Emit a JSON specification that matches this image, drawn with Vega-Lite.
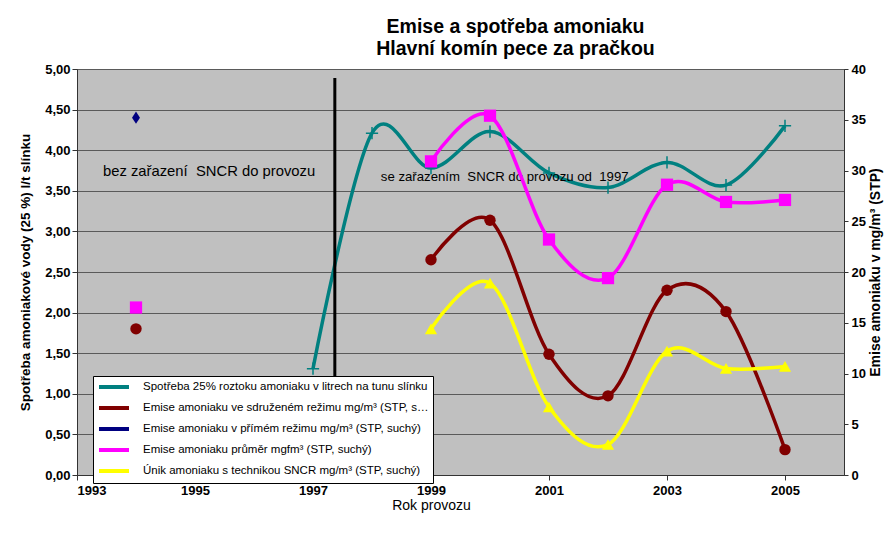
{
  "$schema": "https://vega.github.io/schema/vega-lite/v6.json",
  "width": 767,
  "height": 406,
  "autosize": {"type": "none"},
  "padding": {"left": 77, "top": 69, "right": 52, "bottom": 64},
  "background": "white",
  "config": {
    "font": "Liberation Sans",
    "view": {"fill": "#C0C0C0", "stroke": "#555555", "strokeWidth": 1},
    "axis": {"labelColor": "black", "titleColor": "black", "domainColor": "#333333", "tickColor": "#333333", "labelFont": "Liberation Sans", "titleFont": "Liberation Sans"}
  },
  "title": {
    "text": ["Emise a spotřeba amoniaku", "Hlavní komín pece za pračkou"],
    "fontSize": 19.5,
    "fontWeight": "bold",
    "font": "Liberation Sans",
    "color": "black",
    "anchor": "middle",
    "frame": "group",
    "dx": 55,
    "lineHeight": 22,
    "offset": 4
  },
  "datasets": {
    "teal": [
      {"year": 1997, "value": 1.31, "series": "Spotřeba 25% roztoku amoniaku v litrech na tunu slínku"},
      {"year": 1998, "value": 4.21, "series": "Spotřeba 25% roztoku amoniaku v litrech na tunu slínku"},
      {"year": 1999, "value": 3.78, "series": "Spotřeba 25% roztoku amoniaku v litrech na tunu slínku"},
      {"year": 2000, "value": 4.23, "series": "Spotřeba 25% roztoku amoniaku v litrech na tunu slínku"},
      {"year": 2001, "value": 3.72, "series": "Spotřeba 25% roztoku amoniaku v litrech na tunu slínku"},
      {"year": 2002, "value": 3.54, "series": "Spotřeba 25% roztoku amoniaku v litrech na tunu slínku"},
      {"year": 2003, "value": 3.85, "series": "Spotřeba 25% roztoku amoniaku v litrech na tunu slínku"},
      {"year": 2004, "value": 3.57, "series": "Spotřeba 25% roztoku amoniaku v litrech na tunu slínku"},
      {"year": 2005, "value": 4.30, "series": "Spotřeba 25% roztoku amoniaku v litrech na tunu slínku"}
    ],
    "em": [
      {"year": 1994, "value": 14.4, "series": "Emise amoniaku ve sdruženém režimu mg/m³ (STP, suchý)"},
      {"year": 1999, "value": 21.2, "series": "Emise amoniaku ve sdruženém režimu mg/m³ (STP, suchý)"},
      {"year": 2000, "value": 25.1, "series": "Emise amoniaku ve sdruženém režimu mg/m³ (STP, suchý)"},
      {"year": 2001, "value": 11.9, "series": "Emise amoniaku ve sdruženém režimu mg/m³ (STP, suchý)"},
      {"year": 2002, "value": 7.8, "series": "Emise amoniaku ve sdruženém režimu mg/m³ (STP, suchý)"},
      {"year": 2003, "value": 18.2, "series": "Emise amoniaku ve sdruženém režimu mg/m³ (STP, suchý)"},
      {"year": 2004, "value": 16.1, "series": "Emise amoniaku ve sdruženém režimu mg/m³ (STP, suchý)"},
      {"year": 2005, "value": 2.5, "series": "Emise amoniaku ve sdruženém režimu mg/m³ (STP, suchý)"},
      {"year": 1994, "value": 35.2, "series": "Emise amoniaku v přímém režimu mg/m³ (STP, suchý)"},
      {"year": 1994, "value": 16.5, "series": "Emise amoniaku průměr mgfm³ (STP, suchý)"},
      {"year": 1999, "value": 30.9, "series": "Emise amoniaku průměr mgfm³ (STP, suchý)"},
      {"year": 2000, "value": 35.4, "series": "Emise amoniaku průměr mgfm³ (STP, suchý)"},
      {"year": 2001, "value": 23.2, "series": "Emise amoniaku průměr mgfm³ (STP, suchý)"},
      {"year": 2002, "value": 19.4, "series": "Emise amoniaku průměr mgfm³ (STP, suchý)"},
      {"year": 2003, "value": 28.6, "series": "Emise amoniaku průměr mgfm³ (STP, suchý)"},
      {"year": 2004, "value": 26.9, "series": "Emise amoniaku průměr mgfm³ (STP, suchý)"},
      {"year": 2005, "value": 27.1, "series": "Emise amoniaku průměr mgfm³ (STP, suchý)"},
      {"year": 1999, "value": 14.4, "series": "Únik amoniaku s technikou SNCR mg/m³ (STP, suchý)"},
      {"year": 2000, "value": 18.9, "series": "Únik amoniaku s technikou SNCR mg/m³ (STP, suchý)"},
      {"year": 2001, "value": 6.7, "series": "Únik amoniaku s technikou SNCR mg/m³ (STP, suchý)"},
      {"year": 2002, "value": 3.0, "series": "Únik amoniaku s technikou SNCR mg/m³ (STP, suchý)"},
      {"year": 2003, "value": 12.2, "series": "Únik amoniaku s technikou SNCR mg/m³ (STP, suchý)"},
      {"year": 2004, "value": 10.5, "series": "Únik amoniaku s technikou SNCR mg/m³ (STP, suchý)"},
      {"year": 2005, "value": 10.7, "series": "Únik amoniaku s technikou SNCR mg/m³ (STP, suchý)"}
    ],
    "divider": [{"year": 1997.37, "y1": 0, "y2": 4.89}],
    "notes": [
      {"year": 1993.44, "value": 3.73, "label": "bez zařazení\u00a0 SNCR do provozu"},
      {"year": 1998.15, "value": 3.67, "label": "se zařazením\u00a0 SNCR do provozu od\u00a0 1997"}
    ]
  },
  "encoding": {
    "x": {
      "field": "year",
      "type": "quantitative",
      "scale": {"domain": [1993, 2006], "nice": false, "zero": false},
      "axis": {
        "values": [1993, 1995, 1997, 1999, 2001, 2003, 2005],
        "format": "d",
        "grid": false,
        "title": "Rok provozu",
        "titleFontSize": 14,
        "titleFontWeight": "normal",
        "titlePadding": 1,
        "titleX": 354,
        "labelFontSize": 13,
        "labelFontWeight": "bold",
        "labelPadding": 4,
        "tickSize": 5,
        "domainColor": "#333333"
      }
    }
  },
  "layer": [
    {
      "encoding": {
        "y": {
          "field": "value",
          "type": "quantitative",
          "scale": {"domain": [0, 5], "nice": false, "zero": true},
          "axis": {
            "orient": "left",
            "values": [0, 0.5, 1, 1.5, 2, 2.5, 3, 3.5, 4, 4.5, 5],
            "labelExpr": "replace(format(datum.value, '.2f'), '.', ',')",
            "grid": true,
            "gridColor": "#5a5a5a",
            "gridWidth": 1,
            "title": "Spotřeba amoniakové vody (25 %) l/t slínku",
            "titleFontSize": 13.5,
            "titleFontWeight": "bold",
            "titlePadding": 12,
            "labelFontSize": 13,
            "labelFontWeight": "bold",
            "labelPadding": 2,
            "tickSize": 5
          }
        }
      },
      "layer": [
        {
          "data": {"name": "teal"},
          "mark": {"type": "line", "interpolate": "cardinal", "strokeWidth": 3.5, "color": "#008080"}
        },
        {
          "data": {"name": "teal"},
          "mark": {"type": "point", "shape": "M-1,0H1M0,-1V1", "filled": false, "size": 150, "strokeWidth": 1.5, "color": "#008080", "opacity": 1}
        },
        {
          "data": {"name": "divider"},
          "mark": {"type": "rule", "color": "black", "strokeWidth": 3},
          "encoding": {
            "y": {"field": "y1", "type": "quantitative"},
            "y2": {"field": "y2"}
          }
        },
        {
          "data": {"name": "notes"},
          "transform": [{"filter": "datum.year < 1995"}],
          "mark": {"type": "text", "align": "left", "baseline": "middle", "fontSize": 14.8, "color": "black", "font": "Liberation Sans"},
          "encoding": {"text": {"field": "label", "type": "nominal"}}
        },
        {
          "data": {"name": "notes"},
          "transform": [{"filter": "datum.year > 1995"}],
          "mark": {"type": "text", "align": "left", "baseline": "middle", "fontSize": 13.2, "color": "black", "font": "Liberation Sans"},
          "encoding": {"text": {"field": "label", "type": "nominal"}}
        }
      ]
    },
    {
      "data": {"name": "em"},
      "encoding": {
        "y": {
          "field": "value",
          "type": "quantitative",
          "scale": {"domain": [0, 40], "nice": false, "zero": true},
          "axis": {
            "orient": "right",
            "values": [0, 5, 10, 15, 20, 25, 30, 35, 40],
            "format": "d",
            "grid": false,
            "title": "Emise amoniaku v mg/m³ (STP)",
            "titleAngle": 270,
            "titleBaseline": "top",
            "titleFontSize": 14,
            "titleFontWeight": "bold",
            "titlePadding": 3,
            "labelFontSize": 13,
            "labelFontWeight": "bold",
            "labelPadding": 3,
            "tickSize": 4
          }
        }
      },
      "layer": [
        {
          "transform": [{"filter": "datum.year >= 1997"}],
          "mark": {"type": "line", "interpolate": "cardinal", "strokeWidth": 3.5},
          "encoding": {
            "color": {
              "field": "series",
              "type": "nominal",
              "scale": {
                "domain": ["Spotřeba 25% roztoku amoniaku v litrech na tunu slínku", "Emise amoniaku ve sdruženém režimu mg/m³ (STP, suchý)", "Emise amoniaku v přímém režimu mg/m³ (STP, suchý)", "Emise amoniaku průměr mgfm³ (STP, suchý)", "Únik amoniaku s technikou SNCR mg/m³ (STP, suchý)"],
                "range": ["#008080", "#800000", "#000080", "#FF00FF", "#FFFF00"]
              },
              "legend": {
                "title": null,
                "orient": "none",
                "legendX": 16,
                "legendY": 307,
                "fillColor": "white",
                "strokeColor": "black",
                "padding": 4,
                "symbolType": "M-3,0H3",
                "symbolSize": 100,
                "symbolOffset": 10,
                "symbolStrokeWidth": 4,
                "labelOffset": 22,
                "labelFont": "Liberation Sans",
                "labelFontSize": 11.5,
                "labelColor": "black",
                "labelLimit": 290,
                "rowPadding": 5
              }
            }
          }
        },
        {
          "transform": [{"filter": "indexof(datum.series, 'sdružen') > 0"}],
          "mark": {"type": "point", "shape": "circle", "filled": true, "size": 130, "opacity": 1, "color": "#800000"}
        },
        {
          "transform": [{"filter": "indexof(datum.series, 'přímém') > 0"}],
          "mark": {"type": "point", "shape": "M0,-1L0.65,0L0,1L-0.65,0Z", "filled": true, "size": 150, "opacity": 1, "color": "#000080"}
        },
        {
          "transform": [{"filter": "indexof(datum.series, 'průměr') > 0"}],
          "mark": {"type": "point", "shape": "square", "filled": true, "size": 150, "opacity": 1, "color": "#FF00FF"}
        },
        {
          "transform": [{"filter": "indexof(datum.series, 'Únik') == 0"}],
          "mark": {"type": "point", "shape": "triangle-up", "filled": true, "size": 150, "opacity": 1, "color": "#FFFF00"}
        }
      ]
    }
  ],
  "resolve": {"scale": {"y": "independent"}}
}
